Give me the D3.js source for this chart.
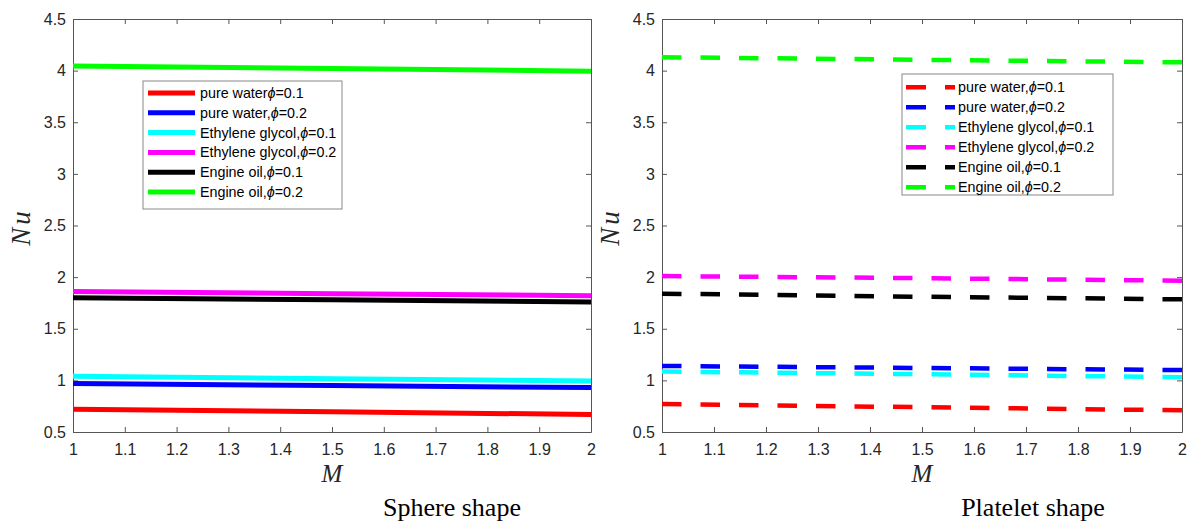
<!DOCTYPE html>
<html>
<head>
<meta charset="utf-8">
<script src="https://cdn.jsdelivr.net/npm/d3@7"></script>
<style>
  body { margin: 0; background: #fff; }
</style>
</head>
<body>
<div class="chart"></div>
<script>
var svgWidth = 1194;
var svgHeight = 525;

// data
var mValues = [1, 1.5, 2];
var seriesNames = ["pure water", "pure water", "Ethylene glycol", "Ethylene glycol", "Engine oil", "Engine oil"];
var phiValues = ["0.1", "0.2", "0.1", "0.2", "0.1", "0.2"];
var seriesColors = ["#ff0000", "#0000ff", "#00ffff", "#ff00ff", "#000000", "#00ff00"];

var sphereNu = [
  [0.72, 0.695, 0.67],
  [0.97, 0.95, 0.93],
  [1.04, 1.015, 0.995],
  [1.86, 1.84, 1.82],
  [1.80, 1.78, 1.76],
  [4.045, 4.02, 3.995]
];
var plateletNu = [
  [0.77, 0.74, 0.71],
  [1.14, 1.12, 1.10],
  [1.085, 1.06, 1.03],
  [2.01, 1.99, 1.965],
  [1.84, 1.81, 1.785],
  [4.13, 4.105, 4.08]
];

var xTicks = [1, 1.1, 1.2, 1.3, 1.4, 1.5, 1.6, 1.7, 1.8, 1.9, 2];
var yTicks = [0.5, 1, 1.5, 2, 2.5, 3, 3.5, 4, 4.5];

var svg = d3.select(".chart")
    .append("svg")
    .attr("width", svgWidth)
    .attr("height", svgHeight);

// matlab-ish axis look
function styleAxis(sel) {
    sel.attr("font-size", 16).attr("font-family", "'Liberation Sans', Arial, sans-serif");
    sel.selectAll(".domain").attr("stroke", "#555");
    sel.selectAll(".tick line").attr("stroke", "#555");
    sel.selectAll(".tick text").attr("fill", "#262626");
}

function drawPanel(opt) {
    var x = d3.scaleLinear().domain([1, 2]).range([opt.left, opt.right]);
    var y = d3.scaleLinear().domain([0.5, 4.5]).range([432, 19]);
    var g = svg.append("g");

    // box + inward ticks on all four sides
    g.append("g").attr("transform", "translate(0,432)")
        .call(d3.axisBottom(x).tickValues(xTicks).tickSizeInner(-5).tickSizeOuter(0).tickPadding(12).tickFormat(d3.format("")))
        .call(styleAxis);
    g.append("g").attr("transform", "translate(0,19)")
        .call(d3.axisTop(x).tickValues(xTicks).tickSizeInner(-5).tickSizeOuter(0).tickFormat(""))
        .call(styleAxis);
    g.append("g").attr("transform", `translate(${opt.left},0)`)
        .call(d3.axisLeft(y).tickValues(yTicks).tickSizeInner(-5).tickSizeOuter(0).tickPadding(7).tickFormat(d3.format("")))
        .call(styleAxis);
    g.append("g").attr("transform", `translate(${opt.right},0)`)
        .call(d3.axisRight(y).tickValues(yTicks).tickSizeInner(-5).tickSizeOuter(0).tickFormat(""))
        .call(styleAxis);

    var line = d3.line().x((d, i) => x(mValues[i])).y(d => y(d));

    var order = [0, 1, 2, 4, 3, 5];
    g.selectAll(".series")
        .data(order)
        .join("path")
        .attr("d", i => line(opt.values[i]))
        .attr("fill", "none")
        .attr("stroke", i => seriesColors[i])
        .attr("stroke-width", opt.dashed ? 4.5 : 5)
        .attr("stroke-dasharray", opt.dashed ? "19.5,19" : null);

    // axis labels
    g.append("text")
        .attr("transform", `translate(${opt.left - 43},227) rotate(-90)`)
        .attr("text-anchor", "middle")
        .style("font-family", "'Liberation Serif', serif")
        .style("font-style", "italic")
        .style("font-size", "27px")
        .style("letter-spacing", "3px")
        .style("fill", "#262626")
        .text("Nu");
    g.append("text")
        .attr("x", (opt.left + opt.right) / 2)
        .attr("y", 482)
        .attr("text-anchor", "middle")
        .style("font-family", "'Liberation Serif', serif")
        .style("font-style", "italic")
        .style("font-size", "25px")
        .style("fill", "#262626")
        .text("M");
    g.append("text")
        .attr("x", opt.captionX)
        .attr("y", 516)
        .attr("text-anchor", "middle")
        .style("font-family", "'Liberation Serif', serif")
        .style("font-size", "26px")
        .style("fill", "#000")
        .text(opt.caption);

    // legend
    var lg = g.append("g");
    lg.append("rect")
        .attr("x", opt.legend.x).attr("y", opt.legend.y)
        .attr("width", opt.legend.w).attr("height", opt.legend.h)
        .attr("fill", "#fff").attr("stroke", "#888").attr("stroke-width", 1);
    var rows = lg.selectAll(".row")
        .data(seriesNames)
        .join("g")
        .attr("transform", (d, i) => `translate(0,${opt.legend.y0 + i * opt.legend.step})`);
    rows.append("line")
        .attr("x1", opt.legend.x1).attr("x2", opt.legend.x2)
        .attr("y1", 0).attr("y2", 0)
        .attr("stroke", (d, i) => seriesColors[i])
        .attr("stroke-width", opt.dashed ? 4.5 : 5)
        .attr("stroke-dasharray", opt.dashed ? "20,19" : null);
    var t = rows.append("text")
        .attr("x", opt.legend.tx)
        .attr("y", 0)
        .attr("dy", "0.35em")
        .style("font-family", "'Liberation Sans', Arial, sans-serif")
        .style("font-size", "14.3px")
        .style("fill", "#000");
    t.append("tspan").text((d, i) => (opt.noComma && i === 0) ? d : d + ",");
    t.append("tspan").style("font-style", "italic").text("\u03D5");
    t.append("tspan").text((d, i) => "=" + phiValues[i]);
}

drawPanel({
    left: 73, right: 591, values: sphereNu, dashed: false,
    caption: "Sphere shape", captionX: 452, noComma: true,
    legend: {x: 143, y: 81, w: 199, h: 128, y0: 93, step: 19.8, x1: 148, x2: 195, tx: 200}
});
drawPanel({
    left: 662, right: 1182, values: plateletNu, dashed: true,
    caption: "Platelet shape", captionX: 1033, noComma: false,
    legend: {x: 902, y: 74, w: 211, h: 121, y0: 87.3, step: 20, x1: 906, x2: 955, tx: 958}
});
</script>
</body>
</html>
